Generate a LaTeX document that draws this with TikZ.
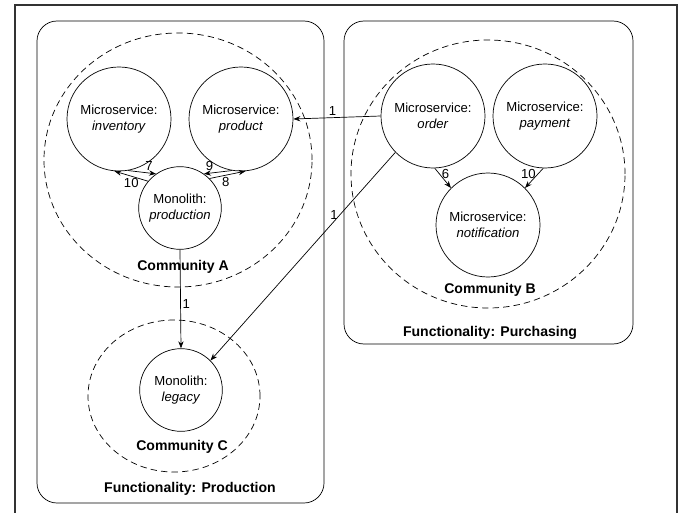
\documentclass[tikz,border=0pt]{standalone}
\usepackage{fontspec}
\setmainfont{Liberation Sans}
\usetikzlibrary{arrows.meta, shapes.geometric, positioning}

\begin{document}
\begin{tikzpicture}[
    x=0.03cm, y=-0.03cm,
    line width=0.6pt,
    font=\fontsize{11.2}{13.7}\selectfont,
    svc/.style={draw, circle, minimum size=3.12cm, inner sep=0pt, align=center},
    mono/.style={draw, circle, minimum size=2.48cm, inner sep=0pt, align=center},
    comm/.style={draw, ellipse, inner sep=0pt, dash pattern=on 5.5pt off 3.5pt},
    func/.style={rounded corners=0.6cm},
    arr/.style={-{Stealth[length=6pt,width=4.5pt]}},
    lbl/.style={font=\fontsize{12}{14}\selectfont\bfseries},
    num/.style={inner sep=1.5pt}
]
\useasboundingbox (0,0) rectangle (682,513);

% Outer frame
\draw[line width=1.3pt, black!80] (15,514) -- (15,5) -- (677,5) -- (677,514);

% Functionality boxes
\draw[func] (37,21) rectangle (324,503);
\draw[func] (344,21) rectangle (633,344);
\node[lbl] (fprod) at (190,489) {Functionality: Production};
\node[lbl] (fpurch) at (490,333) {Functionality: Purchasing};

% Communities
\node[comm, minimum width=8.04cm, minimum height=7.62cm] (comA) at (178,160) {};
\node[comm, minimum width=8.22cm, minimum height=8.04cm] (comB) at (488,174) {};
\node[comm, minimum width=5.16cm, minimum height=4.56cm] (comC) at (174,396) {};
\node[lbl] (labA) at (183,267) {Community A};
\node[lbl] (labB) at (490,290) {Community B};
\node[lbl] (labC) at (182,447) {Community C};

% Services
\node[svc] (inventory) at (119,119) {Microservice:\\\textit{inventory}};
\node[svc] (product) at (241,119) {Microservice:\\\textit{product}};
\node[mono] (production) at (180,208) {Monolith:\\\textit{production}};
\node[svc] (order) at (433,116) {Microservice:\\\textit{order}};
\node[svc] (payment) at (545,116) {Microservice:\\\textit{payment}};
\node[svc] (notification) at (488,225) {Microservice:\\\textit{notification}};
\node[mono] (legacy) at (181,390) {Monolith:\\\textit{legacy}};

% Calls
\draw[arr] (inventory.-80) -- node[num, pos=.75, above] {7} (production.125);
\draw[arr] (production.140) -- node[num, pos=.5, below] {10} (inventory.-95);
\draw[arr] (product.-100) -- node[num, pos=.8, above] {9} (production.55);
\draw[arr] (production.45) -- node[num, pos=.45, below] {8} (product.-85);
\draw[arr] (order.west) -- node[num, pos=.55, above] {1} (product.east);
\draw[arr] (order.-136) -- node[num, pos=.3, left] {1} (legacy.45);
\draw[arr] (production.south) -- node[num, pos=.55, right] {1} (legacy.north);
\draw[arr] (order.-88) -- node[num, pos=.3, right] {6} (notification.135);
\draw[arr] (payment.-92) -- node[num, pos=.3, left] {10} (notification.45);

\end{tikzpicture}
\end{document}
